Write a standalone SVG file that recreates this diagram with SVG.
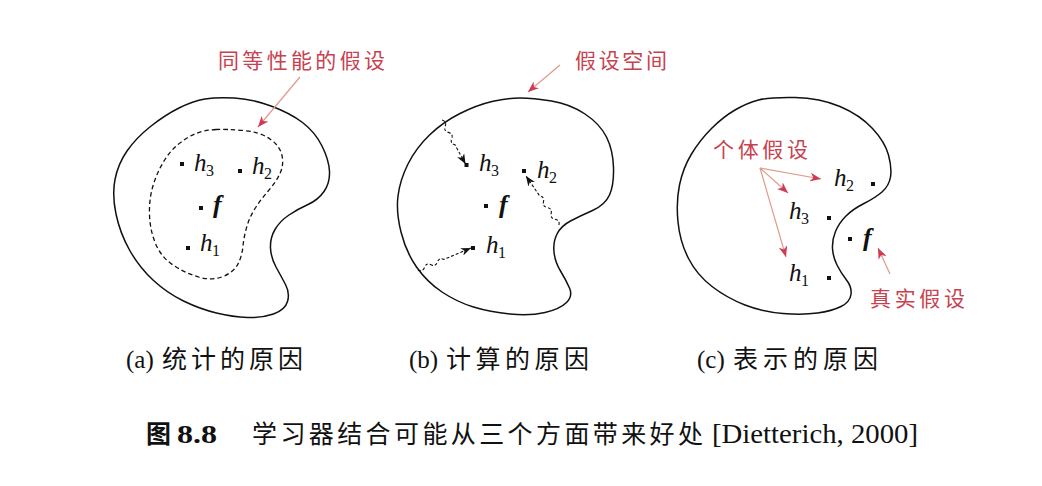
<svg xmlns="http://www.w3.org/2000/svg" width="1042" height="486" viewBox="0 0 1042 486">
<style>
.blob{fill:none;stroke:#111;stroke-width:1.5;stroke-linejoin:round}
.dash{fill:none;stroke:#111;stroke-width:1.3;stroke-dasharray:4.5,3}
.wav{fill:none;stroke:#111;stroke-width:1.1;stroke-dasharray:3,2}
.red{fill:none;stroke:#e2998c;stroke-width:1.2}
.dot{fill:#111}
.m{font-family:"Liberation Serif",serif;font-style:italic;font-size:25px;fill:#111}
.s{font-family:"Liberation Serif",serif;font-size:16px;fill:#111}
.f{font-family:"Liberation Serif",serif;font-style:italic;font-weight:bold;font-size:26px;fill:#111}
.rl{font-family:"Noto Sans CJK SC",sans-serif;font-size:21px;fill:#c7414f}
.cap{font-family:"Liberation Serif",serif;font-size:25px;fill:#111}
.cj{font-family:"Noto Sans CJK SC",sans-serif;font-size:25px;fill:#111}
</style>
<defs>
<marker id="ar" viewBox="0 0 10 8" refX="10" refY="4" markerWidth="11" markerHeight="9" markerUnits="userSpaceOnUse" orient="auto"><path d="M0,0 L10,4 L0,8 L3,4 z" fill="#d03a55"/></marker>
<marker id="ab" viewBox="0 0 10 8" refX="10" refY="4" markerWidth="10" markerHeight="8" markerUnits="userSpaceOnUse" orient="auto"><path d="M0,0 L10,4 L0,8 L3,4 z" fill="#111"/></marker>
</defs>

<g id="panel-a">
<path class="blob" d="M205,99 Q217,97 234.5,98 Q252,99 271,106 Q290,113 302.5,122.5 Q315,132 322,146 Q329,160 329.5,171.5 Q330,183 324,191.5 Q318,200 308,204.5 Q298,209 289,215 Q280,221 275,229.5 Q270,238 270.5,248 Q271,258 276,267 Q281,276 285.5,284.5 Q290,293 287.5,301.5 Q285,310 273.5,314 Q262,318 247.5,317.5 Q233,317 216.5,313 Q200,309 183.5,301 Q167,293 153,280 Q139,267 129.5,250 Q120,233 116,214 Q112,195 115,179.5 Q118,164 127,151 Q136,138 150.5,126.5 Q165,115 179,108 Q193,101 205,99 Z"/>
<path class="dash" d="M216,129.5 Q227,129 243.5,130.5 Q260,132 270,139 Q280,146 282,155.5 Q284,165 280,173.5 Q276,182 269,190 Q262,198 256,207 Q250,216 247,226 Q244,236 243,246 Q242,256 238,264 Q234,272 223,276.5 Q212,281 198.5,277 Q185,273 173,265 Q161,257 155.5,243.5 Q150,230 149.5,215 Q149,200 152.5,187.5 Q156,175 162.5,163.5 Q169,152 178,144.5 Q187,137 196,133.5 Q205,130 216,129.5 Z"/>
<rect class="dot" x="180" y="162" width="4" height="4"/>
<text class="m" x="194" y="171">h</text><text class="s" x="206" y="176">3</text>
<rect class="dot" x="238" y="169" width="4" height="4"/>
<text class="m" x="252" y="174">h</text><text class="s" x="264" y="179">2</text>
<rect class="dot" x="199" y="206" width="4" height="4"/>
<text class="f" x="213" y="213">f</text>
<rect class="dot" x="186" y="246" width="4" height="4"/>
<text class="m" x="200" y="251">h</text><text class="s" x="212" y="256">1</text>
<text class="rl" x="218" y="68" textLength="167" lengthAdjust="spacing">同等性能的假设</text>
</g>

<g id="panel-b">
<path class="blob" d="M520,98 Q533,98 551.5,101 Q570,104 585,114 Q600,124 606.5,137 Q613,150 613.5,167.5 Q614,185 609.5,195 Q605,205 592.5,210.5 Q580,216 570.5,221 Q561,226 557,234 Q553,242 554,252 Q555,262 560.5,271 Q566,280 569.5,288 Q573,296 566.5,302.5 Q560,309 545,312.5 Q530,316 510,314 Q490,312 473.5,307 Q457,302 442,292 Q427,282 416.5,267 Q406,252 401,232 Q396,212 398,196 Q400,180 408,164 Q416,148 429.5,135 Q443,122 460,113.5 Q477,105 492,101.5 Q507,98 520,98 Z"/>
<rect class="dot" x="464.5" y="163" width="4" height="4"/>
<text class="m" x="479" y="171">h</text><text class="s" x="491" y="176">3</text>
<rect class="dot" x="522" y="169" width="4" height="4"/>
<text class="m" x="537" y="178">h</text><text class="s" x="549" y="183">2</text>
<rect class="dot" x="484" y="204" width="4" height="4"/>
<text class="f" x="499" y="213">f</text>
<rect class="dot" x="471" y="246" width="4" height="4"/>
<text class="m" x="486" y="253">h</text><text class="s" x="498" y="258">1</text>
<text class="rl" x="575" y="68" textLength="92" lengthAdjust="spacing">假设空间</text>
</g>

<g id="panel-c">
<path class="blob" d="M758.5,100 Q770,97 795,97.5 Q820,98 840,106.5 Q860,115 872.5,128.5 Q885,142 888.5,155 Q892,168 890.5,177 Q889,186 882,192 Q875,198 864,203.5 Q853,209 846,216 Q839,223 835.5,231.5 Q832,240 832.5,248.5 Q833,257 837,265 Q841,273 846.5,280 Q852,287 851,294.5 Q850,302 841,306.5 Q832,311 817.5,313 Q803,315 783,313.5 Q763,312 745,305 Q727,298 712,286.5 Q697,275 688.5,258.5 Q680,242 678,222 Q676,202 679.5,185 Q683,168 691.5,154 Q700,140 711.5,128.5 Q723,117 735,110 Q747,103 758.5,100 Z"/>
<text class="m" x="834" y="186">h</text><text class="s" x="846" y="191">2</text>
<rect class="dot" x="871" y="182" width="4" height="4"/>
<text class="m" x="789" y="219">h</text><text class="s" x="801" y="224">3</text>
<rect class="dot" x="827" y="216" width="4" height="4"/>
<rect class="dot" x="848" y="237" width="4" height="4"/>
<text class="f" x="863" y="246">f</text>
<text class="m" x="789" y="281">h</text><text class="s" x="801" y="286">1</text>
<rect class="dot" x="827" y="276" width="4" height="4"/>
<text class="rl" x="713" y="157" textLength="95" lengthAdjust="spacing">个体假设</text>
<text class="rl" x="870" y="306" textLength="95" lengthAdjust="spacing">真实假设</text>
</g>

<g id="connectors">
<line class="red" x1="300" y1="77" x2="258" y2="127" marker-end="url(#ar)"/>
<line class="red" x1="560" y1="65" x2="528" y2="92" marker-end="url(#ar)"/>
<line class="red" x1="760" y1="168" x2="821" y2="179" marker-end="url(#ar)"/>
<line class="red" x1="760" y1="168" x2="788" y2="193" marker-end="url(#ar)"/>
<line class="red" x1="760" y1="168" x2="786" y2="257" stroke="#e3a684" marker-end="url(#ar)"/>
<line class="red" x1="890" y1="274" x2="878" y2="248" marker-end="url(#ar)"/>
<path class="wav" d="M442,120 Q447,121.5 445.2,126.2 T448.5,132.4 T451.7,138.6 T455,144.8 L465.5,164" marker-end="url(#ab)"/>
<path class="wav" d="M559,225 Q560,220 555.1,219.2 T551.2,213.4 T547.3,207.5 T543.5,201.7 T539.6,195.9 L526,176" marker-end="url(#ab)"/>
<path class="wav" d="M418,270 Q422.6,272.5 424.5,267.4 T431,264.7 T437.4,262.1 T443.9,259.4 L471,248" marker-end="url(#ab)"/>
</g>

<g id="captions">
<text class="cap" x="126" y="368">(a)</text>
<text class="cj" x="162" y="368" textLength="141" lengthAdjust="spacing">统计的原因</text>
<text class="cap" x="409" y="368">(b)</text>
<text class="cj" x="446" y="368" textLength="143" lengthAdjust="spacing">计算的原因</text>
<text class="cap" x="697" y="368">(c)</text>
<text class="cj" x="733" y="368" textLength="145" lengthAdjust="spacing">表示的原因</text>
<text class="cj" x="146" y="443" font-weight="bold" font-size="21">图</text>
<text x="177" y="443" font-family="Liberation Serif,serif" font-weight="bold" font-size="26" textLength="40" lengthAdjust="spacingAndGlyphs" fill="#111">8.8</text>
<text class="cj" x="252" y="443" font-size="23" textLength="451" lengthAdjust="spacing">学习器结合可能从三个方面带来好处</text>
<text x="712" y="443" font-family="Liberation Serif,serif" font-size="27" textLength="206" lengthAdjust="spacingAndGlyphs" fill="#111">[Dietterich, 2000]</text>
</g>
</svg>
